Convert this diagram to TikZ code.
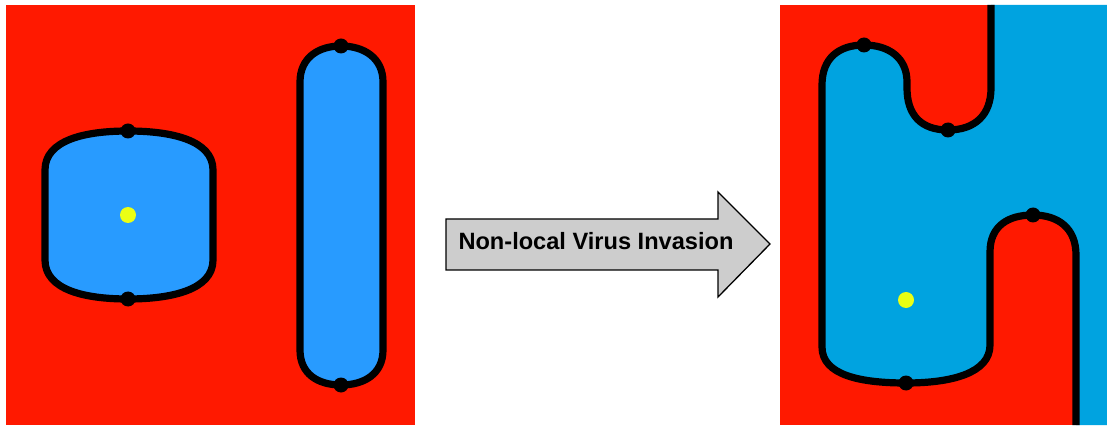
\documentclass[tikz,border=0pt]{standalone}
\usepackage{fontspec}
\setmainfont{Liberation Sans}
\definecolor{cellred}{RGB}{255,25,0}
\definecolor{cellblue}{RGB}{40,155,255}
\definecolor{hostblue}{RGB}{0,163,224}
\definecolor{spot}{RGB}{235,255,20}
\definecolor{arrowgray}{RGB}{205,205,205}
\tikzset{
  wall/.style={line width=7.2pt, line join=round},
  knot/.style={fill=black},
  core/.style={fill=spot},
}
\begin{document}
\begin{tikzpicture}[x=1pt,y=-1pt]
\useasboundingbox[fill=white] (0,0) rectangle (1107,427);

% ---- left panel: two separate domains ----
\fill[cellred] (6,5) rectangle (415,425);
\filldraw[fill=cellblue, wall]
  (45,170) .. controls (45,140) and (85,131) .. (128,131)
  .. controls (171,131) and (213,140) .. (213,170)
  -- (213,260)
  .. controls (213,290) and (171,299) .. (128,299)
  .. controls (85,299) and (45,290) .. (45,260) -- cycle;
\filldraw[fill=cellblue, wall]
  (300,82) .. controls (300,58) and (318,46) .. (341,46)
  .. controls (364,46) and (383,58) .. (383,82)
  -- (383,350)
  .. controls (383,374) and (364,385) .. (341,385)
  .. controls (318,385) and (300,374) .. (300,350) -- cycle;
\fill[knot] (128,131) circle (7.5);
\fill[knot] (128,299) circle (7.5);
\fill[knot] (341,46) circle (7.5);
\fill[knot] (341,385) circle (7.5);
\fill[core] (128,215) circle (8);

% ---- arrow ----
\filldraw[fill=arrowgray, line width=1.3pt, line join=miter]
  (446,219) -- (718,219) -- (718,192) -- (770,244) -- (718,297)
  -- (718,270) -- (446,270) -- cycle;
\node[font=\bfseries\fontsize{23.6}{28}\selectfont, anchor=base, inner sep=0pt]
  (label) at (596,250) {Non-local Virus Invasion};

% ---- right panel: merged domain ----
\fill[cellred] (780,5) rectangle (1107,425);
\fill[hostblue]
  (991,5) -- (991,88)
  .. controls (991,115) and (975,130) .. (948,130)
  .. controls (921,130) and (907,115) .. (907,88)
  -- (907,82)
  .. controls (907,58) and (889,45) .. (864,45)
  .. controls (839,45) and (822,58) .. (822,85)
  -- (822,347)
  .. controls (822,375) and (860,383) .. (906,383)
  .. controls (952,383) and (990,373) .. (990,345)
  -- (990,252)
  .. controls (990,226) and (1008,215) .. (1033,215)
  .. controls (1058,215) and (1076,228) .. (1076,255)
  -- (1076,425) -- (1107,425) -- (1107,5) -- cycle;
\draw[wall]
  (991,5) -- (991,88)
  .. controls (991,115) and (975,130) .. (948,130)
  .. controls (921,130) and (907,115) .. (907,88)
  -- (907,82)
  .. controls (907,58) and (889,45) .. (864,45)
  .. controls (839,45) and (822,58) .. (822,85)
  -- (822,347)
  .. controls (822,375) and (860,383) .. (906,383)
  .. controls (952,383) and (990,373) .. (990,345)
  -- (990,252)
  .. controls (990,226) and (1008,215) .. (1033,215)
  .. controls (1058,215) and (1076,228) .. (1076,255)
  -- (1076,425);
\fill[knot] (864,45) circle (7.5);
\fill[knot] (948,130) circle (7.5);
\fill[knot] (1033,215) circle (7.5);
\fill[knot] (906,383) circle (7.5);
\fill[core] (906,300) circle (8);
\end{tikzpicture}
\end{document}
